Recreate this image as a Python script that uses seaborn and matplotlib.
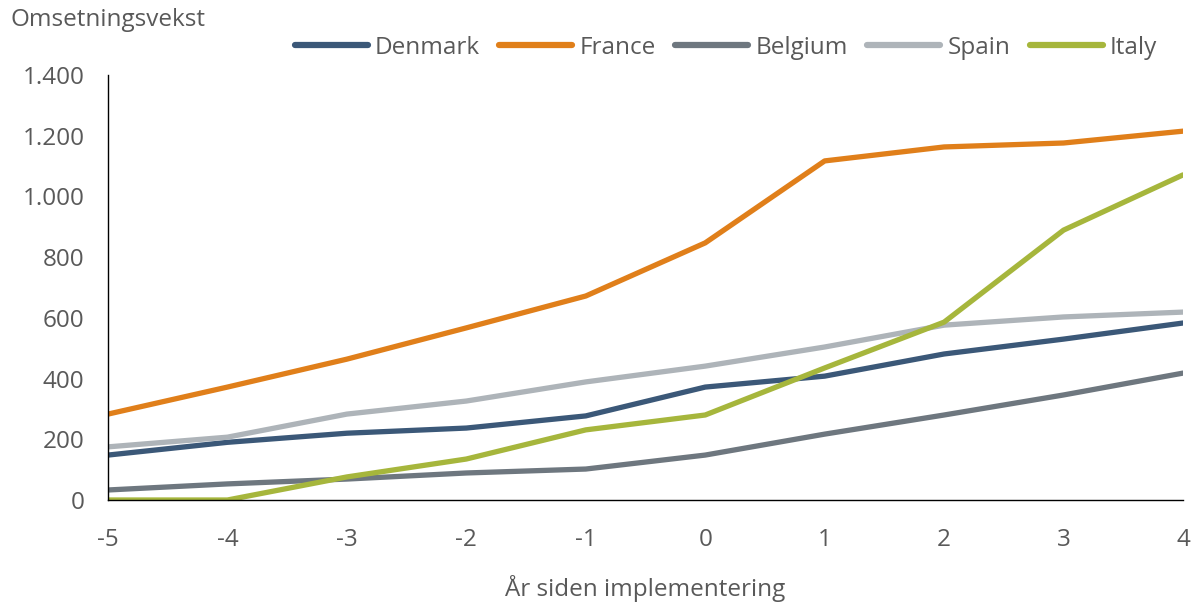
import matplotlib
matplotlib.use("Agg")
import matplotlib.pyplot as plt
import matplotlib.ticker as mticker
import seaborn as sns
import pandas as pd

years = [-5, -4, -3, -2, -1, 0, 1, 2, 3, 4]
denmark = [148, 190, 220, 237, 277, 372, 408, 481, 530, 583]
france = [283, 372, 464, 567, 672, 847, 1117, 1163, 1176, 1215]
belgium = [33, 53, 69, 89, 102, 148, 217, 280, 346, 418]
spain = [175, 207, 283, 326, 389, 441, 504, 576, 603, 619]
italy = [0, 0, 76, 135, 231, 280, 435, 586, 889, 1071]

countries = ["Denmark", "France", "Belgium", "Spain", "Italy"]
series = [denmark, france, belgium, spain, italy]
colors = ["#3B5878", "#E07F1A", "#6E777F", "#AEB4B9", "#A6B63C"]

df = pd.DataFrame(
    [(y, c, v) for c, vals in zip(countries, series) for y, v in zip(years, vals)],
    columns=["year", "country", "value"],
)

sns.set_theme(style="white")
plt.rcParams["font.family"] = ["Open Sans", "DejaVu Sans"]
plt.rcParams["axes.unicode_minus"] = False
text_color = "#595959"
fs = 17.5

fig = plt.figure(figsize=(11.97, 6.05), dpi=100)
ax = fig.add_axes([108 / 1197, 1 - 500 / 605, (1183 - 108) / 1197, (500 - 75) / 605])

sns.lineplot(
    data=df, x="year", y="value", hue="country", hue_order=countries,
    palette=dict(zip(countries, colors)), linewidth=3.8, ax=ax, legend=True,
)

ax.set_xlim(-5, 4)
ax.set_ylim(0, 1400)
ax.set_xticks(years)
ax.set_yticks(range(0, 1401, 200))
ax.yaxis.set_major_formatter(
    mticker.FuncFormatter(lambda v, _: f"{int(v):,}".replace(",", "."))
)
for side in ["top", "right"]:
    ax.spines[side].set_visible(False)
for side in ["left", "bottom"]:
    ax.spines[side].set_color("black")
    ax.spines[side].set_linewidth(1.0)
ax.tick_params(axis="both", direction="out", length=6, width=1, color="black",
               labelsize=fs, labelcolor=text_color)
ax.tick_params(axis="y", pad=11)
ax.tick_params(axis="x", pad=14)
ax.set_xlabel("År siden implementering", fontsize=fs, color=text_color, va="center")
ax.xaxis.set_label_coords(0.5, -88 / 425)
ax.set_ylabel("")
fig.text(10 / 1197, 1 - 20 / 605, "Omsetningsvekst", fontsize=fs, color=text_color,
         va="center", ha="left")

handles, labels = ax.get_legend_handles_labels()
leg = ax.legend(handles, labels, ncol=5, loc="center", frameon=False,
                bbox_to_anchor=(726 / 1197, 1 - 48 / 605), bbox_transform=fig.transFigure,
                fontsize=fs, handlelength=3.0, columnspacing=0.8, handletextpad=0.3)
for t in leg.get_texts():
    t.set_color(text_color)
for h in leg.get_lines():
    h.set_linewidth(4.5)

fig.savefig("out.png", dpi=100, facecolor="white")
